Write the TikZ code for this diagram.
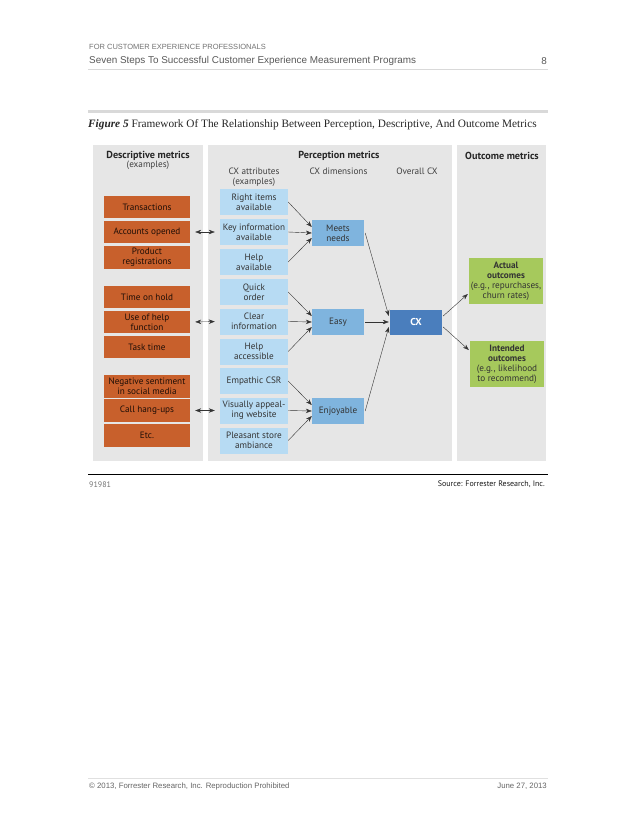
\documentclass[tikz,border=0pt]{standalone}
\usepackage{fontspec}
\setmainfont{Liberation Serif}
\setsansfont{PT Sans}
\newfontfamily\headfont{Liberation Sans}
\usetikzlibrary{arrows.meta,calc}
\definecolor{panelgray}{HTML}{E6E6E6}
\definecolor{descorange}{HTML}{C8602C}
\definecolor{attrblue}{HTML}{B7DBF3}
\definecolor{dimblue}{HTML}{7FB4DE}
\definecolor{cxblue}{HTML}{4A7EBD}
\definecolor{outgreen}{HTML}{A6C95C}
\begin{document}
\begin{tikzpicture}[x=1pt,y=-1pt,
    every node/.style={font=\sffamily\fontsize{9.2}{10}\selectfont, align=center, text=black!80, inner sep=1pt},
    desc/.style={fill=descorange, text=black!85!descorange, minimum width=86pt, minimum height=22.5pt},
    attr/.style={fill=attrblue, minimum width=68pt, minimum height=26pt},
    dim/.style={fill=dimblue, minimum width=52pt, minimum height=26pt},
    overall/.style={fill=cxblue, minimum width=52pt, minimum height=25pt, text=white, font=\sffamily\bfseries\fontsize{10}{11}\selectfont},
    outcome/.style={fill=outgreen, minimum width=74pt, minimum height=46pt},
    heading/.style={font=\sffamily\bfseries\fontsize{10.2}{11}\selectfont, text=black!85},
    sub/.style={text=black!75},
    link/.style={draw=black!80, -{Stealth[length=6pt,width=4.4pt]}},
    twoway/.style={draw=black!80, {Stealth[length=6pt,width=4.4pt]}-{Stealth[length=6pt,width=4.4pt]}, shorten <=5pt, shorten >=5pt},
    pagetext/.style={font=\headfont\fontsize{9.9}{11}\selectfont, text=black!65, anchor=west}
]
\useasboundingbox[fill=white] (0,0) rectangle (638,826);

% page header
\node[pagetext, font=\headfont\fontsize{7.5}{8}\selectfont, text=black!55] (kicker) at (88,46.5) {FOR CUSTOMER EXPERIENCE PROFESSIONALS};
\node[pagetext] (title) at (88,61) {Seven Steps To Successful Customer Experience Measurement Programs};
\node[pagetext, anchor=east] (pageno) at (548,61) {8};
\draw[black!15, line width=0.5pt] (88,69) -- (548,69);
\fill[black!15] (88,110) rectangle (548,113.5);
\node[anchor=west, font=\rmfamily\fontsize{11.3}{13}\selectfont, text=black!85] (caption) at (87,124.5) {\textbf{\textit{Figure 5}} Framework Of The Relationship Between Perception, Descriptive, And Outcome Metrics};

% panels
\fill[panelgray] (93,145) rectangle (203,461);
\fill[panelgray] (208,145) rectangle (452,461);
\fill[panelgray] (457,145) rectangle (546,461);

\node[heading] (hdesc) at (148,155.5) {Descriptive metrics};
\node[sub] (hdescx) at (148,165) {(examples)};
\node[heading] (hperc) at (339,155.5) {Perception metrics};
\node[sub, anchor=north] (hattr) at (254,166.5) {CX attributes\\(examples)};
\node[sub] (hdim) at (338.5,171.5) {CX dimensions};
\node[sub] (hall) at (417,171.5) {Overall CX};
\node[heading] (hout) at (502,155.5) {Outcome metrics};

% descriptive metrics
\node[desc] (d1) at (147,207) {Transactions};
\node[desc] (d2) at (147,232) {Accounts opened};
\node[desc] (d3) at (147,257.5) {Product\\registrations};
\node[desc] (d4) at (147,297) {Time on hold};
\node[desc] (d5) at (147,322) {Use of help\\function};
\node[desc] (d6) at (147,347) {Task time};
\node[desc] (d7) at (147,386.5) {Negative sentiment\\in social media};
\node[desc] (d8) at (147,410.5) {Call hang-ups};
\node[desc] (d9) at (147,435.5) {Etc.};

% CX attributes
\node[attr] (a1) at (254,202) {Right items\\available};
\node[attr] (a2) at (254,232) {Key information\\available};
\node[attr] (a3) at (254,262) {Help\\available};
\node[attr] (a4) at (254,292) {Quick\\order};
\node[attr] (a5) at (254,321.5) {Clear\\information};
\node[attr] (a6) at (254,351.5) {Help\\accessible};
\node[attr] (a7) at (254,381) {Empathic CSR};
\node[attr] (a8) at (254,410.5) {Visually appeal-\\ing website};
\node[attr] (a9) at (254,440.5) {Pleasant store\\ambiance};

% CX dimensions and overall
\node[dim] (meets) at (338,233) {Meets\\needs};
\node[dim] (easy) at (338,322) {Easy};
\node[dim] (enjoy) at (338,411) {Enjoyable};
\node[overall] (cx) at (416,322) {CX};

% outcomes
\node[outcome] (actual) at (506,281) {\textbf{Actual}\\\textbf{outcomes}\\(e.g., repurchases,\\churn rates)};
\node[outcome] (intended) at (507,364) {\textbf{Intended}\\\textbf{outcomes}\\(e.g., likelihood\\to recommend)};

% descriptive <-> attributes
\draw[twoway] (d2.east) -- (a2.west);
\draw[twoway] (d5.east) -- (a5.west);
\draw[twoway] (d8.east) -- (a8.west);

% attributes -> dimensions
\draw[link] (a1.east) -- ($(meets.west)+(0,-6)$);
\draw[link] (a2.east) -- (meets.west);
\draw[link] (a3.east) -- ($(meets.west)+(0,5)$);
\draw[link] (a4.east) -- ($(easy.west)+(0,-6)$);
\draw[link] (a5.east) -- (easy.west);
\draw[link] (a6.east) -- ($(easy.west)+(0,5)$);
\draw[link] (a7.east) -- ($(enjoy.west)+(0,-6)$);
\draw[link] (a8.east) -- (enjoy.west);
\draw[link] (a9.east) -- ($(enjoy.west)+(0,5)$);

% dimensions -> CX -> outcomes
\draw[link] ($(meets.east)+(1,0)$) -- ($(cx.west)+(-1,-6)$);
\draw[link] ($(easy.east)+(1,0)$) -- ($(cx.west)+(-1,0)$);
\draw[link] ($(enjoy.east)+(1,0)$) -- ($(cx.west)+(-1,5)$);
\draw[link] ($(cx.east)+(1,-6)$) -- ($(actual.west)+(-1,13)$);
\draw[link] ($(cx.east)+(1,5)$) -- ($(intended.west)+(-1,-14)$);

% figure footer
\draw[black, line width=0.8pt] (88,474.5) -- (548,474.5);
\node[anchor=west, text=black!55, font=\sffamily\fontsize{8}{9}\selectfont] (figno) at (88,484.5) {91981};
\node[anchor=east, text=black!90, font=\sffamily\fontsize{8}{9}\selectfont] (source) at (546,484.5) {Source: Forrester Research, Inc.};

% page footer
\draw[black!12, line width=0.5pt] (88,778) -- (548,778);
\node[pagetext, font=\headfont\fontsize{7.8}{8}\selectfont, text=black!60] (copy) at (88,786.5) {\textcopyright\ 2013, Forrester Research, Inc. Reproduction Prohibited};
\node[pagetext, anchor=east, font=\headfont\fontsize{7.8}{8}\selectfont, text=black!60] (date) at (548,786.5) {June 27, 2013};
\end{tikzpicture}
\end{document}
